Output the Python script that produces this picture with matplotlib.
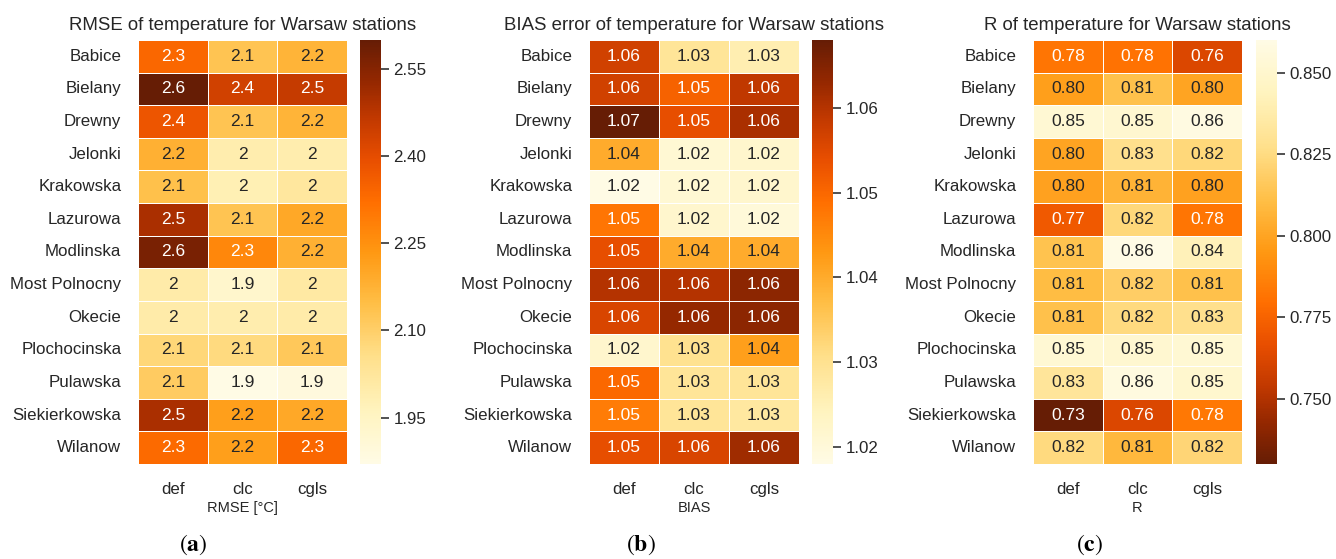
import numpy as np
import matplotlib
matplotlib.use("Agg")
import matplotlib.pyplot as plt
from matplotlib.colors import LinearSegmentedColormap
import seaborn as sns

stations = ["Babice", "Bielany", "Drewny", "Jelonki", "Krakowska", "Lazurowa",
            "Modlinska", "Most Polnocny", "Okecie", "Plochocinska", "Pulawska",
            "Siekierkowska", "Wilanow"]
runs = ["def", "clc", "cgls"]

# RMSE [°C] per station (columns: def, clc, cgls)
rmse = [
    [2.34, 2.13, 2.17],
    [2.60, 2.44, 2.46],
    [2.38, 2.13, 2.17],
    [2.18, 1.99, 1.99],
    [2.14, 1.98, 2.02],
    [2.50, 2.13, 2.20],
    [2.57, 2.27, 2.18],
    [2.00, 1.93, 2.01],
    [2.00, 1.99, 2.00],
    [2.08, 2.07, 2.12],
    [2.11, 1.87, 1.89],
    [2.50, 2.22, 2.20],
    [2.33, 2.22, 2.34],
]

# BIAS error per station
bias = [
    [1.057, 1.029, 1.026],
    [1.057, 1.051, 1.059],
    [1.068, 1.054, 1.061],
    [1.040, 1.021, 1.022],
    [1.018, 1.021, 1.022],
    [1.048, 1.022, 1.020],
    [1.054, 1.040, 1.040],
    [1.060, 1.060, 1.064],
    [1.056, 1.063, 1.064],
    [1.022, 1.030, 1.042],
    [1.050, 1.029, 1.029],
    [1.047, 1.029, 1.028],
    [1.054, 1.056, 1.062],
]

# Correlation coefficient R per station
corr = [
    [0.782, 0.781, 0.762],
    [0.798, 0.812, 0.800],
    [0.852, 0.851, 0.858],
    [0.800, 0.828, 0.823],
    [0.799, 0.806, 0.799],
    [0.771, 0.823, 0.782],
    [0.813, 0.860, 0.842],
    [0.810, 0.818, 0.812],
    [0.812, 0.824, 0.828],
    [0.852, 0.851, 0.852],
    [0.832, 0.857, 0.850],
    [0.730, 0.762, 0.783],
    [0.824, 0.808, 0.822],
]

titles = ["RMSE of temperature for Warsaw stations",
          "BIAS error of temperature for Warsaw stations",
          "R of temperature for Warsaw stations"]
xlabels = ["RMSE [°C]", "BIAS", "R"]
fmts = [".2g", ".2f", ".2f"]
cbar_ticks = [[1.95, 2.10, 2.25, 2.40, 2.55],
              [1.02, 1.03, 1.04, 1.05, 1.06],
              [0.750, 0.775, 0.800, 0.825, 0.850]]
cbar_fmt = ["{:.2f}", "{:.2f}", "{:.3f}"]
captions = ["a", "b", "c"]

sns.set_style("white")
plt.rcParams["font.family"] = ["Liberation Sans", "DejaVu Sans"]
plt.rcParams["text.color"] = "0.15"
plt.rcParams["xtick.color"] = "0.15"
plt.rcParams["ytick.color"] = "0.15"
plt.rcParams["axes.labelcolor"] = "0.15"
plt.rcParams["mathtext.fontset"] = "stix"

stops = [(0.00, "#fffbe5"), (0.12, "#fff4c0"), (0.25, "#ffe08c"),
         (0.38, "#ffbe45"), (0.50, "#ff9812"), (0.62, "#ff6e00"),
         (0.72, "#e84e00"), (0.82, "#c03800"), (0.90, "#962800"),
         (1.00, "#661d05")]
heat = LinearSegmentedColormap.from_list("heat", stops)
cmaps = [heat, heat, heat.reversed()]

W, H = 1336, 559
fig = plt.figure(figsize=(W / 100, H / 100), dpi=100)

hm_left = [138, 589, 1033]
hm_right = [347, 799, 1242]
cb_left = [360, 812, 1256]
cb_w = 21
top_px, bot_px = 40, 464
cap_x = [193, 641, 1090]

datasets = [rmse, bias, corr]
for i in range(3):
    data = np.array(datasets[i])
    ax = fig.add_axes([hm_left[i] / W, 1 - bot_px / H,
                       (hm_right[i] - hm_left[i]) / W, (bot_px - top_px) / H])
    cax = fig.add_axes([cb_left[i] / W, 1 - bot_px / H,
                        cb_w / W, (bot_px - top_px) / H])
    sns.heatmap(data, ax=ax, cbar_ax=cax, cmap=cmaps[i], annot=True,
                fmt=fmts[i], linewidths=0.5, linecolor="white",
                xticklabels=runs, yticklabels=stations,
                annot_kws={"fontsize": 12.5})
    ax.set_title(titles[i], fontsize=13.4, pad=7)
    ax.set_xlabel(xlabels[i], fontsize=10.5, labelpad=3)
    ax.tick_params(axis="both", length=0, labelsize=12.2)
    ax.tick_params(axis="x", pad=13)
    ax.tick_params(axis="y", pad=12)
    plt.setp(ax.get_yticklabels(), rotation=0)
    plt.setp(ax.get_xticklabels(), rotation=0)

    cax.set_yticks(cbar_ticks[i])
    cax.set_yticklabels([cbar_fmt[i].format(t) for t in cbar_ticks[i]])
    cax.tick_params(axis="y", length=6, width=1.2, labelsize=12.2, pad=3,
                    color="0.2")
    for s in cax.spines.values():
        s.set_visible(False)

    fig.text(cap_x[i] / W, 1 - 545 / H, r"$(\mathbf{%s})$" % captions[i],
             ha="center", va="center", fontsize=17, color="black")

fig.savefig("out.png", dpi=100)
